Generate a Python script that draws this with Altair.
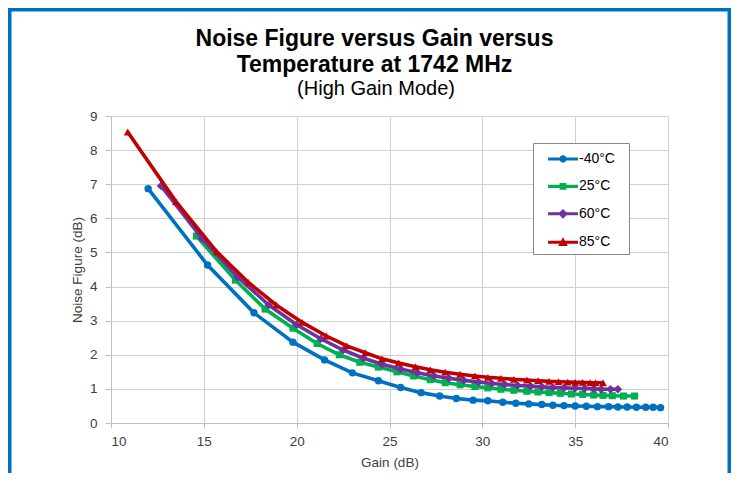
import altair as alt
import pandas as pd

# ---- data ----
series_names = ["-40°C", "25°C", "60°C", "85°C"]
series_colors = ["#0070C0", "#00B050", "#7030A0", "#C00000"]
marker_shapes = ["circle", "square", "diamond", "triangle-up"]
marker_sizes = [55, 50, 75, 62]

gain_m40 = [12.0, 15.2, 17.7, 19.8, 21.5, 23.0, 24.4, 25.6, 26.7, 27.7, 28.6, 29.5, 30.3, 31.1,
            31.8, 32.5, 33.2, 33.8, 34.4, 35.0, 35.6, 36.2, 36.8, 37.3, 37.8, 38.3, 38.8, 39.2, 39.6]
nf_m40 = [6.87, 4.63, 3.23, 2.37, 1.85, 1.47, 1.24, 1.04, 0.89, 0.79, 0.72, 0.67, 0.65, 0.61,
          0.58, 0.56, 0.54, 0.52, 0.51, 0.50, 0.49, 0.48, 0.48, 0.47, 0.47, 0.46, 0.46, 0.46, 0.45]

gain_25 = [14.6, 16.7, 18.3, 19.8, 21.1, 22.3, 23.4, 24.4, 25.4, 26.3, 27.2, 28.0, 28.8, 29.6,
           30.3, 31.0, 31.7, 32.4, 33.0, 33.6, 34.2, 34.8, 35.4, 36.0, 36.5, 37.0, 37.6, 38.2]
nf_25 = [5.48, 4.19, 3.34, 2.78, 2.33, 2.00, 1.78, 1.64, 1.50, 1.38, 1.27, 1.18, 1.12, 1.07,
         1.03, 0.99, 0.96, 0.93, 0.91, 0.89, 0.87, 0.85, 0.84, 0.82, 0.81, 0.80, 0.79, 0.79]

gain_60 = [12.7, 14.9, 16.8, 18.5, 20.0, 21.3, 22.5, 23.6, 24.6, 25.6, 26.5, 27.4, 28.2, 29.0,
           29.8, 30.5, 31.2, 31.9, 32.6, 33.2, 33.8, 34.4, 35.0, 35.5, 36.0, 36.4, 36.9, 37.3]
nf_60 = [6.95, 5.41, 4.29, 3.46, 2.88, 2.47, 2.14, 1.90, 1.72, 1.58, 1.47, 1.38, 1.31, 1.25,
         1.20, 1.16, 1.13, 1.10, 1.08, 1.06, 1.04, 1.03, 1.02, 1.01, 1.00, 0.99, 0.99, 0.99]

gain_85 = [10.9, 13.5, 15.7, 17.4, 18.9, 20.3, 21.6, 22.7, 23.7, 24.6, 25.5, 26.4, 27.2, 28.0,
           28.8, 29.6, 30.3, 31.0, 31.7, 32.4, 33.0, 33.6, 34.1, 34.6, 35.0, 35.4, 35.8, 36.1, 36.5]
nf_85 = [8.53, 6.49, 5.02, 4.12, 3.46, 2.95, 2.55, 2.26, 2.06, 1.88, 1.76, 1.65, 1.56, 1.49,
         1.43, 1.38, 1.34, 1.31, 1.28, 1.26, 1.24, 1.22, 1.21, 1.20, 1.19, 1.19, 1.18, 1.18, 1.18]

x_ticks = [10, 15, 20, 25, 30, 35, 40]
y_ticks = [0, 1, 2, 3, 4, 5, 6, 7, 8, 9]

title_lines = ["Noise Figure versus Gain versus", "Temperature at 1742 MHz"]
subtitle_text = "(High Gain Mode)"

gains = [gain_m40, gain_25, gain_60, gain_85]
nfs = [nf_m40, nf_25, nf_60, nf_85]

rows = []
for name, g, n in zip(series_names, gains, nfs):
    for gi, ni in zip(g, n):
        rows.append({"series": name, "gain": gi, "nf": ni})
df = pd.DataFrame(rows)

FONT = "Arial, Liberation Sans, sans-serif"
TEXT = "#404040"

x_enc = alt.X("gain:Q",
              scale=alt.Scale(domain=[10, 40], nice=False, zero=False),
              axis=alt.Axis(values=x_ticks, title="Gain (dB)", tickSize=5, labelPadding=6,
                            titlePadding=8))
y_enc = alt.Y("nf:Q",
              scale=alt.Scale(domain=[0, 9], nice=False),
              axis=alt.Axis(values=y_ticks, title="Noise Figure (dB)", tickSize=6, labelPadding=8,
                            titlePadding=5))

# legend symbols: a short line with the series marker in the middle
line_part = "M-1.36,-0.14H1.36V0.14H-1.36Z"
legend_paths = [
    line_part + "M0.33,0A0.33,0.33 0 1,1 -0.33,0A0.33,0.33 0 1,1 0.33,0Z",
    line_part + "M-0.31,-0.31H0.31V0.31H-0.31Z",
    line_part + "M0,-0.44L0.44,0L0,0.44L-0.44,0Z",
    line_part + "M0,-0.44L0.44,0.34L-0.44,0.34Z",
]

layers = []
for name, col, shp, sz in zip(series_names, series_colors, marker_shapes, marker_sizes):
    base = alt.Chart(df).transform_filter(alt.datum.series == name)
    layers.append(base.mark_line(color=col, strokeWidth=3.6).encode(x=x_enc, y=y_enc))
    layers.append(base.mark_point(shape=shp, filled=True, size=sz, color=col, opacity=1)
                  .encode(x=x_enc, y=y_enc))

legend_kw = dict(
    orient="none", legendX=422, legendY=27, padding=4,
    title=".", titleOrient="right", titleColor="transparent", titleFontSize=10,
    titlePadding=7,
    fillColor="white", strokeColor="#888888",
    symbolSize=484, rowPadding=8.4, symbolOffset=14, labelOffset=4,
    labelFontSize=14, labelFont=FONT, labelColor="black",
)
legend_layer = (
    alt.Chart(df)
    .transform_filter("datum.nf < -100")
    .mark_point(filled=True, opacity=1)
    .encode(
        x=x_enc, y=y_enc,
        fill=alt.Fill("series:N", scale=alt.Scale(domain=series_names, range=series_colors),
                      legend=alt.Legend(**legend_kw)),
        shape=alt.Shape("series:N", scale=alt.Scale(domain=series_names, range=legend_paths),
                        legend=alt.Legend(**legend_kw)),
    )
)
layers.append(legend_layer)

# chart title (three text lines above the plot)
text_src = alt.Data(values=[{"k": 0}])
layers.append(alt.Chart(text_src).mark_text(
    text=title_lines[0], font=FONT, fontSize=23, fontWeight="bold", color="black",
    align="center", baseline="alphabetic").encode(x=alt.value(263.5), y=alt.value(-70)))
layers.append(alt.Chart(text_src).mark_text(
    text=title_lines[1], font=FONT, fontSize=23, fontWeight="bold", color="black",
    align="center", baseline="alphabetic").encode(x=alt.value(263.5), y=alt.value(-44)))
layers.append(alt.Chart(text_src).mark_text(
    text=subtitle_text, font=FONT, fontSize=20, color="black",
    align="center", baseline="alphabetic").encode(x=alt.value(265), y=alt.value(-21)))

# blue frame around the whole chart
FRAME = "#0070C0"
layers.append(alt.Chart(text_src).mark_rule(color=FRAME, strokeWidth=3.5)
              .encode(x=alt.value(-101.25), y=alt.value(-108), y2=alt.value(360)))
layers.append(alt.Chart(text_src).mark_rule(color=FRAME, strokeWidth=3.5)
              .encode(x=alt.value(618.25), y=alt.value(-108), y2=alt.value(360)))
layers.append(alt.Chart(text_src).mark_rule(color=FRAME, strokeWidth=3.5)
              .encode(x=alt.value(-103), x2=alt.value(620), y=alt.value(-106.25)))

chart = (
    alt.layer(*layers)
    .properties(
        width=557, height=307,
        autosize=alt.AutoSizeParams(type="none"),
        padding={"left": 103, "top": 108, "right": 63, "bottom": 50},
    )
    .configure(background="white")
    .configure_view(strokeWidth=0)
    .configure_axis(
        labelFont=FONT, titleFont=FONT, labelFontSize=13.5, titleFontSize=13.5,
        labelColor=TEXT, titleColor=TEXT, titleFontWeight="normal",
        domainColor="#bfbfbf", tickColor="#bfbfbf", gridColor="#d0d0d0",
        grid=True,
    )
)

chart.save("out.html", embed_options={"renderer": "svg", "actions": False})
